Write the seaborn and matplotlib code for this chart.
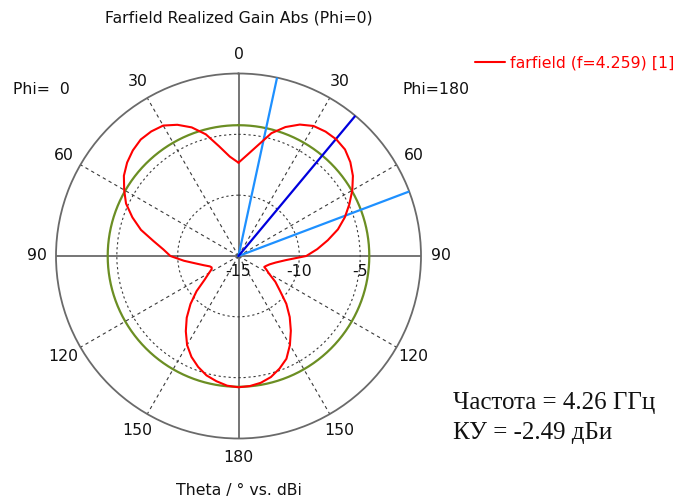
import numpy as np
import pandas as pd
import matplotlib
matplotlib.use("Agg")
import matplotlib.pyplot as plt
import seaborn as sns

# Realized gain cut (dBi) versus theta, for the two half-planes of the Phi=0 cut
theta_deg = [0, 5, 10, 15, 20, 25, 30, 35, 40, 45, 50, 55, 60, 65, 70, 75, 80, 85,
             90, 95, 100, 105, 110, 113, 116, 120, 125, 130, 135, 140, 145, 150,
             155, 160, 165, 170, 175, 180]
gain_phi180 = [-7.33, -6.65, -5.75, -4.55, -3.72, -3.08, -2.66, -2.52, -2.49, -2.62,
               -3.00, -3.52, -4.20, -4.95, -5.70, -6.54, -7.55, -8.50,
               -9.43, -11.10, -11.90, -12.35, -12.60, -12.70, -12.45, -12.10, -11.30,
               -10.55, -9.44, -8.45, -7.50, -6.55, -5.68, -5.15, -4.70, -4.42, -4.27, -4.21]
gain_phi0 = [-7.33, -6.80, -5.85, -4.65, -3.75, -3.10, -2.62, -2.50, -2.50, -2.72,
             -3.05, -3.50, -4.15, -4.80, -5.72, -6.70, -7.90, -8.80,
             -9.40, -10.50, -11.45, -12.06, -12.50, -12.60, -12.55, -12.20, -11.60,
             -10.50, -9.42, -8.38, -7.45, -6.55, -5.85, -5.30, -4.84, -4.55, -4.30, -4.21]

main_lobe_dir = 39.8          # deg, main lobe direction
beamwidth_edges = [12.2, 69.3]  # deg, -3 dB points
ref_level = -4.25             # dB, reference circle
r_min, r_max = -15, 0
r_grid = [-10, -5]
r_labels = [-15, -10, -5]
angle_ticks = [0, 30, 60, 90, 120, 150, 180, 210, 240, 270, 300, 330]
angle_labels = ["0", "30", "60", "90", "120", "150", "180", "150", "120", "90", "60", "30"]
freq_label = "4.26"
gain_label = "-2.49"
legend_label = "farfield (f=4.259) [1]"

FS = 11.3

sns.set_style("white")
plt.rcParams["font.family"] = ["DejaVu Sans"]

fig = plt.figure(figsize=(6.77, 5.04), dpi=100)
ax = fig.add_axes([56 / 677, 65.5 / 504, 365 / 677, 365 / 504], projection="polar")
ax.set_theta_zero_location("N")
ax.set_theta_direction(-1)

# Closed curve: Phi=180 half on the right (clockwise), Phi=0 half mirrored on the left
ang = list(theta_deg) + [360 - t for t in reversed(theta_deg)]
val = list(gain_phi180) + list(reversed(gain_phi0))
df = pd.DataFrame({"theta": np.radians(ang), "gain": val})

# Reference circle
circ = np.linspace(0, 2 * np.pi, 721)
ax.plot(circ, np.full_like(circ, ref_level), color="#6b8e23", lw=1.6, zorder=3)

# Main lobe and -3 dB beamwidth directions
for a in beamwidth_edges:
    ax.plot([np.radians(a)] * 2, [r_min, r_max], color="#1e90ff", lw=1.6, zorder=4)
ax.plot([np.radians(main_lobe_dir)] * 2, [r_min, r_max], color="#0000dd", lw=1.6, zorder=4)

sns.lineplot(data=df, x="theta", y="gain", sort=False, estimator=None,
             color="#ff0000", lw=1.5, ax=ax, label=legend_label, zorder=5)
ax.set_xlabel("")
ax.set_ylabel("")
ax.set_ylim(r_min, r_max)

# Grid
ax.set_xticks(np.radians(angle_ticks))
ax.set_xticklabels([])
ax.set_yticks(r_grid)
ax.set_yticklabels([])
ax.grid(True)
for tick, a in zip(ax.xaxis.get_major_ticks(), angle_ticks):
    if a % 90 == 0:
        tick.gridline.set(color="#6a6a6a", lw=1.3, linestyle="-")
    else:
        tick.gridline.set(color="#3a3a3a", lw=0.8, linestyle=(0, (3, 3)))
for tick in ax.yaxis.get_major_ticks():
    tick.gridline.set(color="#3a3a3a", lw=0.8, linestyle=(0, (2, 2.5)))
ax.spines["polar"].set(color="#6a6a6a", lw=1.3)

# Angle labels
for a, lab in zip(angle_ticks, angle_labels):
    ax.text(np.radians(a), 1.6, lab, ha="center", va="center", fontsize=FS,
            color="#111111", clip_on=False)

# Radial scale labels below the horizontal axis
for r in r_labels:
    ax.annotate(str(r), xy=(np.pi / 2, r), xytext=(0, -15), textcoords="offset pixels",
                ha="center", va="center", fontsize=FS, color="#111111",
                annotation_clip=False)

# Legend
ax.legend(loc="center left", bbox_to_anchor=(475 / 677, 1 - 63 / 504),
          bbox_transform=fig.transFigure, frameon=False, labelcolor="linecolor",
          handlelength=1.9, handletextpad=0.35, borderpad=0, borderaxespad=0,
          fontsize=FS)

fig.text(238.5 / 677, 1 - 18 / 504, "Farfield Realized Gain Abs (Phi=0)",
         ha="center", va="center", fontsize=FS, color="#111111")
fig.text(41 / 677, 1 - 89 / 504, "Phi=  0", ha="center", va="center",
         fontsize=FS, color="#111111")
fig.text(436 / 677, 1 - 89 / 504, "Phi=180", ha="center", va="center",
         fontsize=FS, color="#111111")
fig.text(239 / 677, 1 - 491 / 504, "Theta / \u00b0 vs. dBi", ha="center", va="center",
         fontsize=FS, color="#111111")

fig.text(453 / 677, 1 - 403 / 504, f"Частота = {freq_label} ГГц", ha="left",
         va="center", fontsize=18, family="Liberation Serif", color="#111111")
fig.text(453 / 677, 1 - 433 / 504, f"КУ = {gain_label} дБи", ha="left",
         va="center", fontsize=18, family="Liberation Serif", color="#111111")

fig.savefig("out.png", dpi=100)
